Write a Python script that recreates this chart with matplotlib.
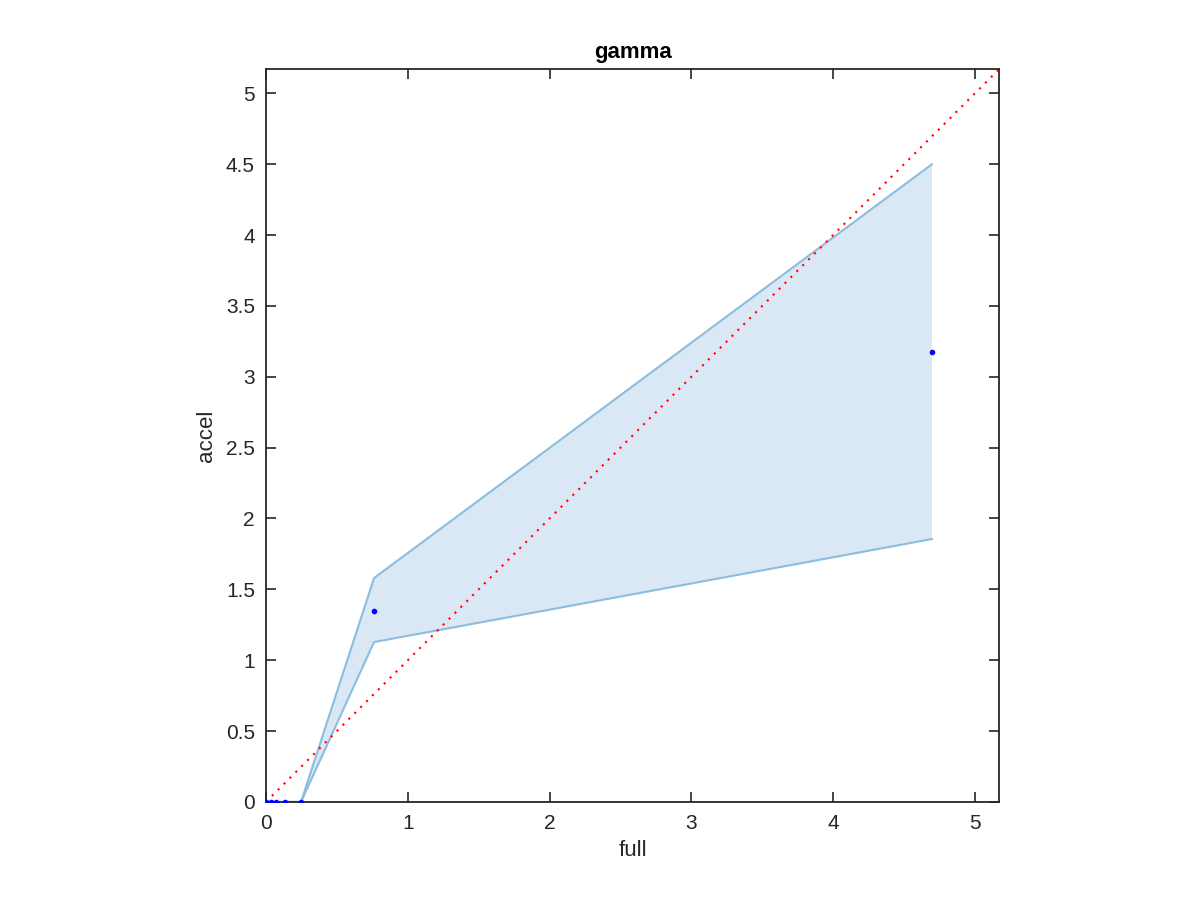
import numpy as np
import matplotlib.pyplot as plt

plt.rcParams['font.family'] = ['Liberation Sans', 'DejaVu Sans']

# valeurs
full = [0.0, 0.035, 0.068, 0.136, 0.247, 0.762, 4.697]
accel = [0.0, 0.0, 0.0, 0.0, 0.0, 1.347, 3.174]
upper = [0.0, 0.0, 0.0, 0.0, 0.0, 1.58, 4.50]
lower = [0.0, 0.0, 0.0, 0.0, 0.0, 1.128, 1.855]
lim = 5.17

fig = plt.figure(figsize=(12, 9), dpi=100)
ax = fig.add_axes([0.2217, 0.109, 0.6108, 0.814])

ax.fill_between(full, lower, upper, facecolor='#d9e8f4', edgecolor='none', zorder=1)
ax.plot(full, upper, color='#8bbde0', lw=1.5, zorder=2)
ax.plot(full, lower, color='#8bbde0', lw=1.5, zorder=2)
ax.plot([0, lim], [0, lim], color='red', ls=(0, (1, 3)), lw=1.5, zorder=3)
ax.plot(full, accel, 'o', color='blue', ms=3, zorder=4)

ax.set_xlim(0, lim)
ax.set_ylim(0, lim)
ax.set_xticks(np.arange(0, 5.1, 1))
ax.set_yticks(np.arange(0, 5.1, 0.5))
ax.set_yticklabels(['0', '0.5', '1', '1.5', '2', '2.5', '3', '3.5', '4', '4.5', '5'])
ax.tick_params(direction='in', top=True, right=True, length=7, width=1.2,
               labelsize=15, colors='#262626')
ax.tick_params(axis='x', pad=9)
ax.tick_params(axis='y', pad=8)
for s in ax.spines.values():
    s.set_color('#262626')
    s.set_linewidth(1.3)

ax.set_xlabel('full', fontsize=16, color='#262626', labelpad=5)
ax.set_ylabel('accel', fontsize=16, color='#262626', labelpad=6)
ax.set_title('gamma', fontsize=16, fontweight='bold', pad=8)

fig.savefig('out.png')
